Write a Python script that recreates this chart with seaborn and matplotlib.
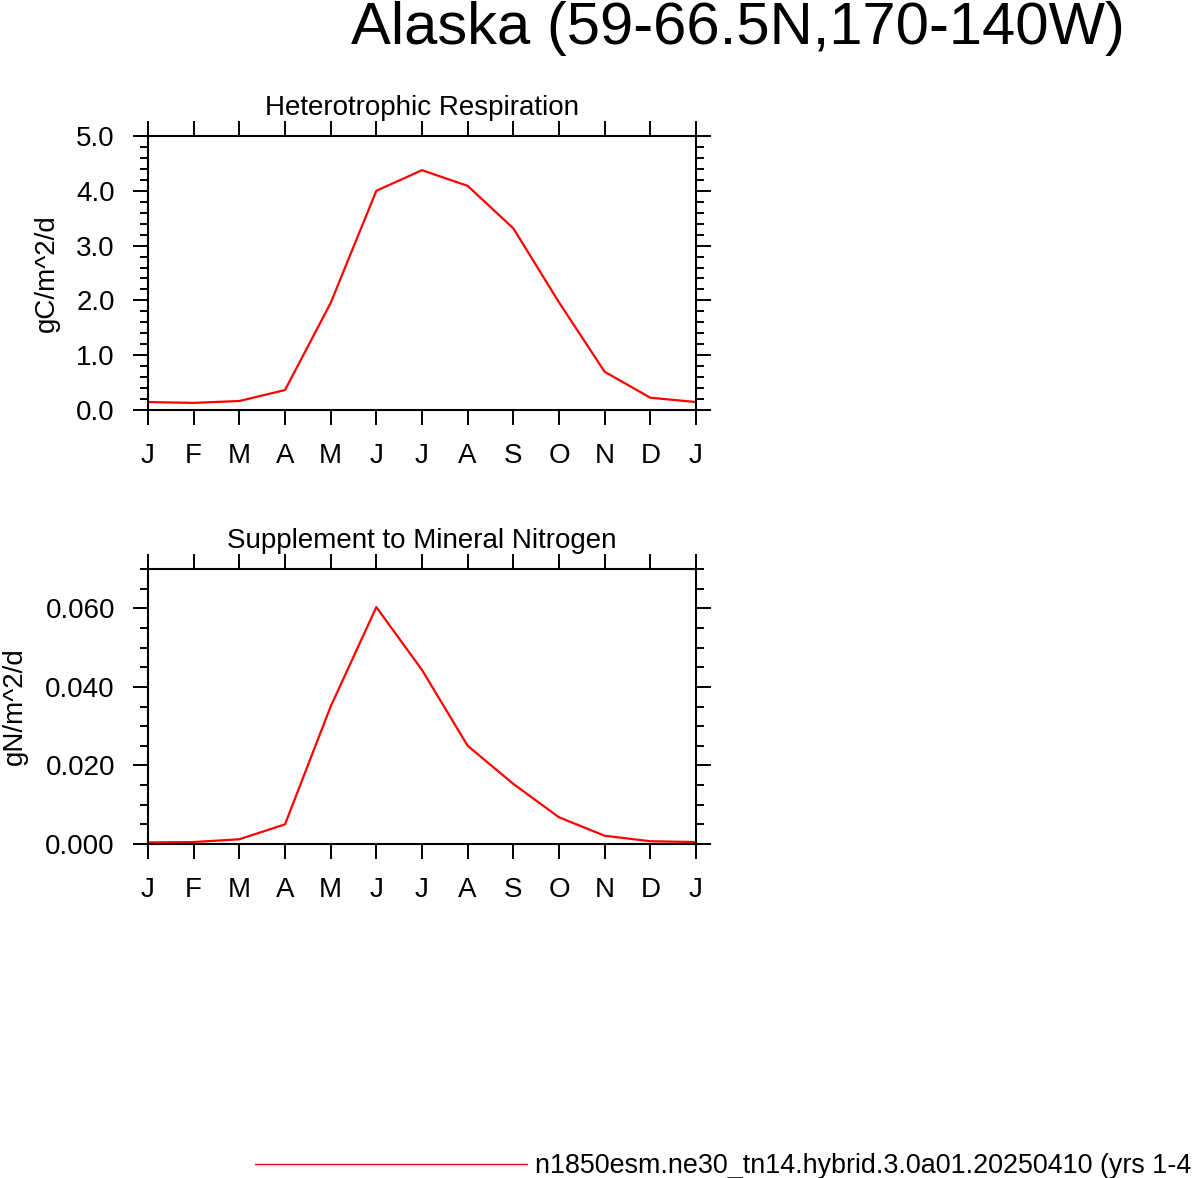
import matplotlib
matplotlib.use("Agg")
import matplotlib.pyplot as plt
from matplotlib.lines import Line2D
from matplotlib.ticker import MultipleLocator, FormatStrFormatter
import seaborn as sns
import pandas as pd

# monthly climatology, Jan..Jan (13 points)
month_pos = list(range(13))
month_labels = ["J", "F", "M", "A", "M", "J", "J", "A", "S", "O", "N", "D", "J"]
hr_values = [0.145, 0.13, 0.164, 0.364, 1.953, 4.0, 4.376, 4.09, 3.315, 1.964, 0.697, 0.224, 0.145]
sminn_values = [0.0004, 0.0005, 0.0012, 0.0050, 0.0350, 0.0603, 0.0443, 0.0250, 0.0153, 0.0068,
                0.0021, 0.0007, 0.0005]

case_name = "n1850esm.ne30_tn14.hybrid.3.0a01.20250410 (yrs 1-4"
fig_title = "Alaska (59-66.5N,170-140W)"

sns.set_theme(style="ticks")
plt.rcParams["font.family"] = ["Liberation Sans", "DejaVu Sans"]
plt.rcParams["text.color"] = "black"
plt.rcParams["axes.labelcolor"] = "black"
plt.rcParams["xtick.color"] = "black"
plt.rcParams["ytick.color"] = "black"
plt.rcParams["axes.titlecolor"] = "black"

W, H = 1200, 1178
fig = plt.figure(figsize=(W / 100, H / 100), dpi=100)


def box(left, top, right, bottom):
    return [left / W, 1 - bottom / H, (right - left) / W, (bottom - top) / H]


panels = [
    dict(rect=box(148, 136, 696, 410), values=hr_values, title="Heterotrophic Respiration",
         ylabel="gC/m^2/d", ymax=5.0, major=1.0, minor=0.2, fmt="%.1f", labx=-0.161),
    dict(rect=box(148, 569, 696, 844), values=sminn_values, title="Supplement to Mineral Nitrogen",
         ylabel="gN/m^2/d", ymax=0.07, major=0.02, minor=0.005, fmt="%.3f", labx=-0.219),
]

for p in panels:
    ax = fig.add_axes(p["rect"])
    df = pd.DataFrame({"month": month_pos, "value": p["values"]})
    sns.lineplot(data=df, x="month", y="value", ax=ax, color="red", linewidth=1.6)
    ax.set_xlim(0, 12)
    ax.set_ylim(0, p["ymax"])
    ax.set_xticks(month_pos)
    ax.set_xticklabels(month_labels)
    ax.yaxis.set_major_locator(MultipleLocator(p["major"]))
    ax.yaxis.set_minor_locator(MultipleLocator(p["minor"]))
    ax.yaxis.set_major_formatter(FormatStrFormatter(p["fmt"]))
    ax.tick_params(which="both", direction="out", top=True, right=True,
                   labeltop=False, labelright=False, width=1.4, color="black")
    ax.tick_params(which="major", length=10.8, labelsize=20, pad=13)
    ax.tick_params(which="minor", length=5.5)
    ax.tick_params(axis="x", which="minor", top=False, bottom=False)
    for s in ax.spines.values():
        s.set_visible(True)
        s.set_linewidth(1.5)
        s.set_color("black")
    ax.set_xlabel("")
    ax.set_ylabel(p["ylabel"], fontsize=20)
    ax.yaxis.set_label_coords(p["labx"], 0.5)
    ax.set_title(p["title"], fontsize=20, y=1.0, pad=15)

# legend along the bottom, like the NCL panel legend
handle = Line2D([], [], color="red", linewidth=1.0)
fig.legend([handle], [case_name], loc="center left", bbox_to_anchor=(255 / W, 1 - 1166 / H),
           frameon=False, fontsize=19.4, handlelength=10.1, handletextpad=0.31,
           borderpad=0, borderaxespad=0)

fig.text(0.615, 1 - 44 / H, fig_title, ha="center", va="baseline", fontsize=43)

fig.savefig("out.png", dpi=100)
